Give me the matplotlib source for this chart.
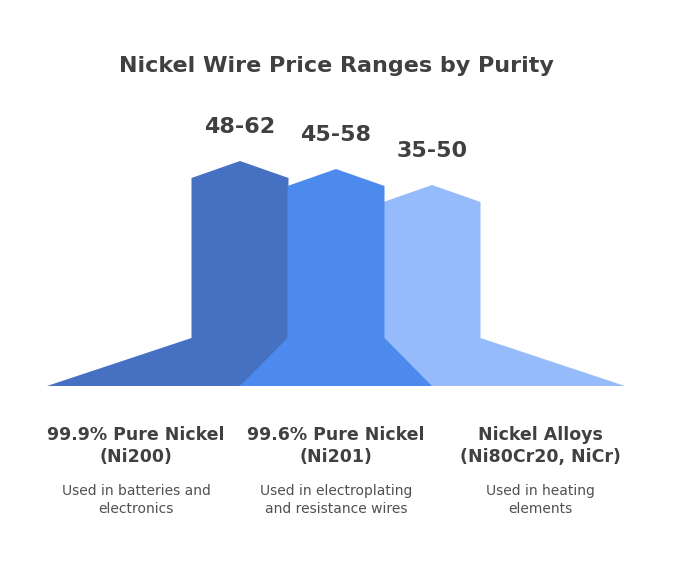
import matplotlib.pyplot as plt
from matplotlib.patches import Polygon

categories = ["99.9% Pure Nickel\n(Ni200)", "99.6% Pure Nickel\n(Ni201)", "Nickel Alloys\n(Ni80Cr20, NiCr)"]
low = [48, 45, 35]
high = [62, 58, 50]
descriptions = ["Used in batteries and\nelectronics", "Used in electroplating\nand resistance wires", "Used in heating\nelements"]
colors = ["#4671C3", "#4D8AEE", "#95BBFB"]

fig = plt.figure(figsize=(6.73, 5.79), dpi=100)
ax = fig.add_axes([0, 0, 1, 1])
ax.set_xlim(0, 673)
ax.set_ylim(579, 0)
ax.axis("off")

base = 386
centers = [240, 336, 432]
half_col = 48.5
outer = [193, 96, 193]

def shape(i):
    c = centers[i]
    peak = base - (101 + 2 * high[i])
    corner = peak + 17
    pts = [(c - outer[i], base), (c - half_col, 338), (c - half_col, corner), (c, peak),
           (c + half_col, corner), (c + half_col, 338), (c + outer[i], base)]
    ax.add_patch(Polygon(pts, closed=True, facecolor=colors[i], edgecolor="none"))
    ax.text(c, peak - 34, f"{low[i]}-{high[i]}", ha="center", va="center",
            fontsize=16, fontweight="bold", color="#404040")

for i in [0, 2, 1]:
    shape(i)

ax.text(336, 66, "Nickel Wire Price Ranges by Purity", ha="center", va="center",
        fontsize=16, fontweight="bold", color="#404040")

label_x = [136, 336, 540]
for i in range(3):
    ax.text(label_x[i], 446, categories[i], ha="center", va="center", fontsize=12.5,
            fontweight="bold", color="#404040", linespacing=1.3)
    ax.text(label_x[i], 500, descriptions[i], ha="center", va="center", fontsize=10,
            color="#505050", linespacing=1.4)

fig.savefig("out.png", dpi=100, facecolor="white")
